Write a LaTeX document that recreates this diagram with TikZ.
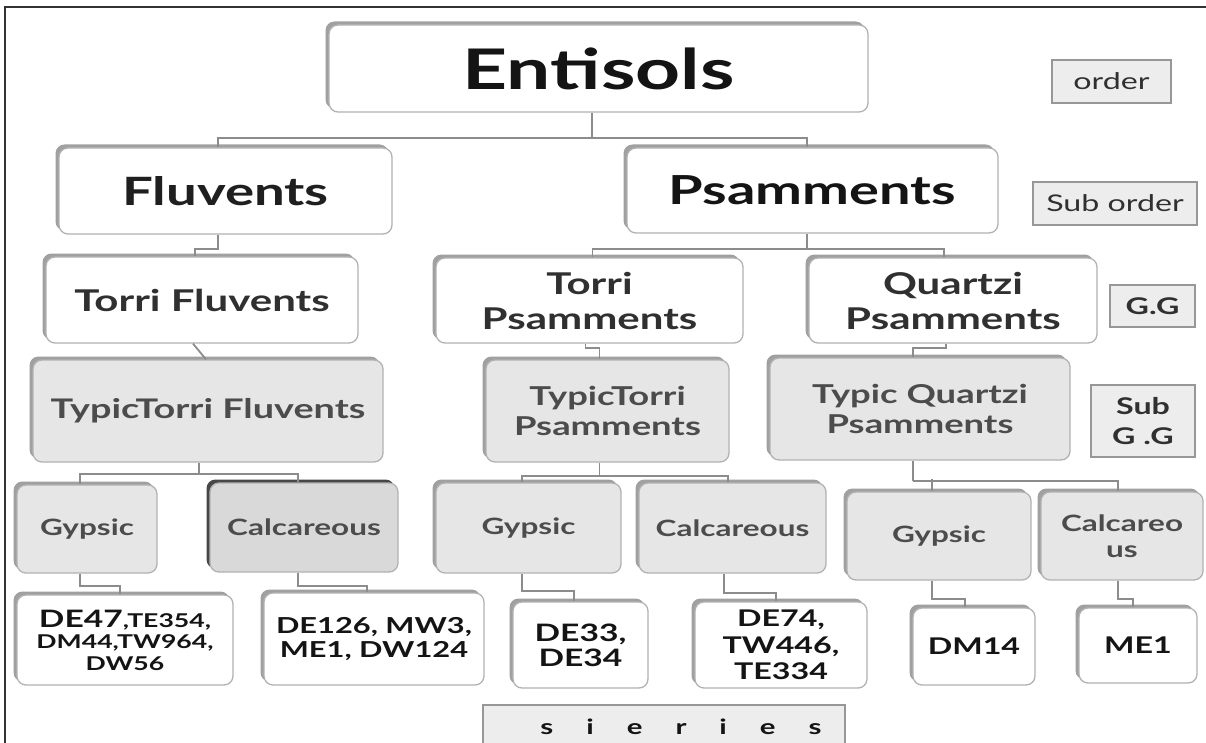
\documentclass[tikz,border=0pt]{standalone}
\usepackage{fontspec}
\setmainfont{Lato}[FakeStretch=1.4]
\usetikzlibrary{shadows}
\definecolor{boxline}{HTML}{B2B2B2}
\definecolor{shade}{HTML}{A0A0A0}
\definecolor{darkshade}{HTML}{474747}
\definecolor{grayfill}{HTML}{E6E6E6}
\definecolor{grayfilldk}{HTML}{D9D9D9}
\definecolor{labfill}{HTML}{EDEDED}
\definecolor{labline}{HTML}{979797}
\definecolor{connc}{HTML}{8C8C8C}
\definecolor{txtdark}{HTML}{141414}
\definecolor{txtmid}{HTML}{303030}
\definecolor{txtgray}{HTML}{4C4C4C}
\newcommand{\fsz}[2]{\fontsize{#1}{#2}\selectfont}
\begin{document}
\begin{tikzpicture}[x=1pt,y=-1pt,
  box/.style={draw=boxline, line width=1.3pt, rounded corners=9pt, fill=white,
    inner sep=0pt, align=center, text=txtdark,
    drop shadow={shadow xshift=-3.5pt, shadow yshift=3.5pt, fill=shade, opacity=1}},
  graybox/.style={box, fill=grayfill, text=txtgray},
  darkgraybox/.style={draw=boxline, line width=1.3pt, rounded corners=9pt, fill=grayfilldk,
    inner sep=0pt, align=center, text=txtgray,
    drop shadow={shadow xshift=-3.5pt, shadow yshift=3.5pt, fill=darkshade, opacity=1}},
  labelbox/.style={draw=labline, line width=2.4pt, fill=labfill, inner sep=0pt,
    align=center, text=txtmid},
  connector/.style={draw=connc, line width=1.8pt},
  framestyle/.style={draw=black!80, line width=1.5pt}
]
\useasboundingbox (0,0) rectangle (1206,743);
\fill[white] (0,0) rectangle (1206,743);
\draw[framestyle] (5,743) -- (5,7) -- (1206,7);

% level 0
\node[box, minimum width=539, minimum height=87, font=\fsz{56}{60}\bfseries] (ent) at (598.5,68.5) {Entisols};
% level 1
\node[box, minimum width=333, minimum height=86, font=\fsz{39}{42}\bfseries, text=black!88] (fluv) at (225.5,191) {Fluvents};
\node[box, minimum width=371, minimum height=85, font=\fsz{40}{42}\bfseries] (psam) at (812.5,190.5) {Psamments};
% level 2
\node[box, minimum width=312, minimum height=86, font=\fsz{30}{35}\bfseries, text=txtmid] (torrif) at (202,300) {Torri Fluvents};
\node[box, minimum width=307, minimum height=85, font=\fsz{30}{35}\bfseries, text=txtmid] (torrip) at (589.5,300.5) {Torri\\Psamments};
\node[box, minimum width=288, minimum height=85, font=\fsz{30}{35}\bfseries, text=txtmid] (quartzi) at (953,300.5) {Quartzi\\Psamments};
% level 3
\node[graybox, minimum width=350, minimum height=102, font=\fsz{27}{30}\bfseries] (typtf) at (208,411) {TypicTorri Fluvents};
\node[graybox, minimum width=243, minimum height=102, font=\fsz{26}{30}\bfseries] (typtp) at (607.5,411) {TypicTorri\\Psamments};
\node[graybox, minimum width=300, minimum height=102, font=\fsz{26}{30}\bfseries] (typq) at (920,409) {Typic Quartzi\\Psamments};
% level 4
\node[graybox, minimum width=140, minimum height=88, font=\fsz{22.5}{26}\bfseries] (gyp1) at (87,529) {Gypsic};
\node[darkgraybox, minimum width=188, minimum height=89, font=\fsz{22.5}{26}\bfseries] (cal1) at (304,527.5) {Calcareous};
\node[graybox, minimum width=185, minimum height=90, font=\fsz{22.5}{26}\bfseries] (gyp2) at (528.5,528) {Gypsic};
\node[graybox, minimum width=187, minimum height=90, font=\fsz{22.5}{26}\bfseries] (cal2) at (732.5,528) {Calcareous};
\node[graybox, minimum width=184, minimum height=88, font=\fsz{22.5}{26}\bfseries] (gyp3) at (939,536) {Gypsic};
\node[graybox, minimum width=162, minimum height=88, font=\fsz{22.5}{26}\bfseries] (cal3) at (1122,536) {Calcareo\\us};
% level 5
\node[box, minimum width=216, minimum height=90, font=\fsz{19}{21.5}\bfseries] (de47) at (125,640) {{\fsz{24}{21.5}DE47},TE354,\\DM44,TW964,\\DW56};
\node[box, minimum width=220, minimum height=92, font=\fsz{22}{24}\bfseries] (de126) at (374,639) {DE126, MW3,\\ME1, DW124};
\node[box, minimum width=135, minimum height=86, font=\fsz{24}{25}\bfseries] (de33) at (580.5,645) {DE33,\\DE34};
\node[box, minimum width=172, minimum height=86, font=\fsz{23}{26.5}\bfseries] (de74) at (781,645) {DE74,\\TW446,\\TE334};
\node[box, minimum width=122, minimum height=77, font=\fsz{23}{25}\bfseries] (dm14) at (974,646.5) {DM14};
\node[box, minimum width=118, minimum height=75, font=\fsz{23}{25}\bfseries] (me1) at (1138,645.5) {ME1};
% rank labels
\node[labelbox, minimum width=119, minimum height=43, font=\fsz{23}{26}] (lorder) at (1111.5,81.5) {order};
\node[labelbox, minimum width=164, minimum height=43, font=\fsz{23}{26}] (lsub) at (1115,203.5) {Sub order};
\node[labelbox, minimum width=85, minimum height=42, font=\fsz{23}{26}\bfseries] (lgg) at (1152.5,306) {G.G};
\node[labelbox, minimum width=104, minimum height=72, font=\fsz{23}{30}\bfseries] (lsgg) at (1143,421) {Sub\\G .G};
\node[labelbox, minimum width=362, minimum height=52] (lseries) at (664,731) {};
\node[font=\fsz{21}{22}\bfseries, text=txtdark, anchor=base, inner sep=0pt] (lseriestxt) at (681,734)
  {s\hspace{33pt}i\hspace{33pt}e\hspace{33pt}r\hspace{33pt}i\hspace{33pt}e\hspace{33pt}s};

% connectors
\draw[connector] ([xshift=-6.5pt]ent.south) -- ++(0,25) coordinate (e1);
\draw[connector] ([xshift=-7.5pt]fluv.north) |- (e1) -| ([xshift=-5.5pt]psam.north);
\draw[connector] ([xshift=-7.5pt]fluv.south) -- ++(0,14) -| ([xshift=-7pt]torrif.north);
\draw[connector] ([xshift=-5.5pt]psam.south) -- ++(0,15) coordinate (p1);
\draw[connector] ([xshift=3pt]torrip.north) |- (p1) -| ([xshift=-9pt]quartzi.north);
\draw[connector] ([xshift=-9pt]torrif.south) -- ([xshift=-2pt]typtf.north);
\draw[connector] ([xshift=-4pt]torrip.south) -- ++(0,4) -| ([xshift=-8pt]typtp.north);
\draw[connector] ([xshift=-7pt]quartzi.south) -- ++(0,4) -| ([xshift=-7pt]typq.north);
\draw[connector] ([xshift=-9pt]typtf.south) -- ++(0,11) coordinate (t1);
\draw[connector] ([xshift=-7pt]gyp1.north) |- (t1) -| ([xshift=-6pt]cal1.north);
\draw[connector] ([xshift=-8pt]typtp.south) -- ++(0,13) coordinate (t2);
\draw[connector] ([xshift=-6.5pt]gyp2.north) |- (t2) -| ([xshift=-4.5pt]cal2.north);
\draw[connector] ([xshift=-7pt]typq.south) -- ++(0,20) coordinate (t3);
\draw[connector] (t3) -| ([xshift=-4pt]cal3.north);
\draw[connector] ([xshift=-7pt]gyp3.north) -- ++(0,-12);
\draw[connector] ([xshift=-7pt]gyp1.south) -- ++(0,12) -| ([xshift=-5pt]de47.north);
\draw[connector] ([xshift=-6pt]cal1.south) -- ++(0,13) -| ([xshift=-7pt]de126.north);
\draw[connector] ([xshift=-6.5pt]gyp2.south) -- ++(0,17) -| ([xshift=-6.5pt]de33.north);
\draw[connector] ([xshift=-8.5pt]cal2.south) -- ++(0,19) -| ([xshift=-5pt]de74.north);
\draw[connector] ([xshift=-7pt]gyp3.south) -- ++(0,18) -| ([xshift=-9pt]dm14.north);
\draw[connector] ([xshift=-4pt]cal3.south) -- ++(0,18) -| ([xshift=-5pt]me1.north);
\end{tikzpicture}
\end{document}
